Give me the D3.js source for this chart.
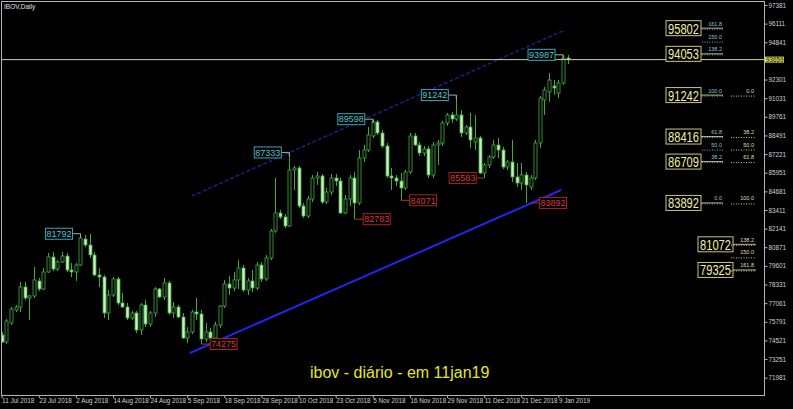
<!DOCTYPE html>
<html><head><meta charset="utf-8">
<script src="https://cdnjs.cloudflare.com/ajax/libs/d3/7.8.5/d3.min.js"></script>
<style>
html,body{margin:0;padding:0;background:#000;}
svg{display:block;}
text{font-family:"Liberation Sans",Arial,sans-serif;}
</style></head><body>
<svg id="c" width="793" height="409"></svg>
<script>
// ---------- DATA ----------
const dates = [
"2018-07-11","2018-07-12","2018-07-13","2018-07-16","2018-07-17","2018-07-18","2018-07-19","2018-07-20","2018-07-23","2018-07-24",
"2018-07-25","2018-07-26","2018-07-27","2018-07-30","2018-07-31","2018-08-01","2018-08-02","2018-08-03","2018-08-06","2018-08-07",
"2018-08-08","2018-08-09","2018-08-10","2018-08-13","2018-08-14","2018-08-15","2018-08-16","2018-08-17","2018-08-20","2018-08-21",
"2018-08-22","2018-08-23","2018-08-24","2018-08-27","2018-08-28","2018-08-29","2018-08-30","2018-08-31","2018-09-03","2018-09-04",
"2018-09-05","2018-09-06","2018-09-10","2018-09-11","2018-09-12","2018-09-13","2018-09-14","2018-09-17","2018-09-18","2018-09-19",
"2018-09-20","2018-09-21","2018-09-24","2018-09-25","2018-09-26","2018-09-27","2018-09-28","2018-10-01","2018-10-02","2018-10-03",
"2018-10-04","2018-10-05","2018-10-08","2018-10-09","2018-10-10","2018-10-11","2018-10-15","2018-10-16","2018-10-17","2018-10-18",
"2018-10-19","2018-10-22","2018-10-23","2018-10-24","2018-10-25","2018-10-26","2018-10-29","2018-10-30","2018-10-31","2018-11-01",
"2018-11-05","2018-11-06","2018-11-07","2018-11-08","2018-11-09","2018-11-12","2018-11-13","2018-11-14","2018-11-16","2018-11-19",
"2018-11-21","2018-11-22","2018-11-23","2018-11-26","2018-11-27","2018-11-28","2018-11-29","2018-11-30","2018-12-03","2018-12-04",
"2018-12-05","2018-12-06","2018-12-07","2018-12-10","2018-12-11","2018-12-12","2018-12-13","2018-12-14","2018-12-17","2018-12-18",
"2018-12-19","2018-12-20","2018-12-21","2018-12-24","2018-12-26","2018-12-27","2018-12-28","2019-01-02","2019-01-03","2019-01-04",
"2019-01-08","2019-01-10","2019-01-11"];
const open = [
74892,74415,75710,76595,76800,78163,77413,77550,78572,78027,
79185,80207,79390,79867,80276,79322,79185,79662,81434,81025,
80344,78981,78845,76391,77618,78708,77072,76800,76050,76391,
75232,76936,75641,76391,78027,77481,78436,76391,76800,76118,
74687,75096,76459,76323,74619,75096,74687,75573,76868,78368,
78095,78640,79458,77958,78572,78095,79662,78708,80139,81980,
83206,82934,82320,86137,86273,83683,83002,84160,85591,85727,
83956,84637,85591,85387,83206,84160,85591,83888,86955,87500,
88454,89408,88658,87772,85727,85591,85387,84910,86000,88454,
87840,87295,87568,85796,87840,87977,89340,89885,89612,89885,
88658,89067,88045,88317,85932,86477,87023,87840,87500,86341,
86682,85660,85250,85796,84978,85591,87977,90907,91452,91861,
91384,92066,93770];
const high = [
75096,75982,76800,76936,78504,78504,77618,79526,78777,79458,
80480,80548,80003,80548,80480,79799,79799,81792,81707,81775,
80548,79458,78981,77958,78845,78845,77754,77072,76527,76527,
77072,77277,76527,78163,78095,78777,78572,77140,76936,76391,
75437,76595,77413,76595,75709,75369,75777,76936,78640,78913,
79185,80003,79662,78777,79322,79867,79867,80344,82116,85591,
83411,83138,87333,86409,86409,83888,84365,85796,86000,85864,
84910,85864,85864,85591,84433,85796,86000,87500,87840,89067,
89598,89544,88862,87977,86273,85796,85932,86137,88658,88658,
88045,87772,87772,88045,88181,89476,90021,90089,91242,90226,
89203,90021,89885,88454,86614,87159,88181,88317,87704,86818,
88181,86614,86614,86000,85796,88181,91180,91793,92747,92270,
92270,93987,93974];
const low = [
74347,74278,75573,76459,76459,77277,75914,77413,77890,77958,
79117,79253,79253,79799,79185,78845,78572,79594,80889,80139,
78913,78163,76050,75914,77481,76936,76731,75914,75914,75028,
74892,75437,75437,76118,77413,77277,76255,76050,76050,74619,
74347,74960,75914,74275,74415,74483,74619,75369,76731,77618,
77890,78027,77822,77618,77822,77958,78504,78572,80003,81843,
82797,82184,82252,84774,83547,82865,82865,83956,85114,83820,
83820,84433,85046,83138,83138,83683,82783,83751,86682,87363,
88317,88522,87636,85591,84774,85046,84071,84774,85864,87772,
87091,87091,85591,85591,86477,87772,89135,89340,89476,88385,
88522,87636,87500,85864,85583,86273,86886,86955,86205,86137,
85319,84978,84774,83892,84774,85455,87636,89885,90770,91248,
91044,91929,93360];
const close = [
74415,75846,76663,76800,78163,77413,77550,78640,78027,79185,
80207,79390,79867,80276,79322,79185,79662,81502,81025,80344,
78981,78845,76391,77618,78708,77072,76800,76050,76391,75232,
76936,75641,76391,78027,77481,78436,76391,76800,76118,74687,
75096,76459,76323,74619,75096,74687,75573,76868,78368,78095,
78640,79458,77958,78572,78095,79662,78708,80139,81980,83206,
82934,82320,86137,86273,83683,83002,84160,85591,85727,83956,
84637,85591,85387,83206,84160,85591,83888,86955,87500,88522,
89408,88658,87772,85727,85591,85387,84910,86000,88454,87840,
87295,87568,85796,87840,87977,89340,89885,89612,89885,88658,
89067,88181,88317,85932,86477,87023,87840,87500,86341,86682,
85660,85250,85796,85114,85591,87977,91044,91589,92270,91725,
92066,93770,93659];

const priceTicks = [97381,96111,94841,92301,91031,89761,88491,87221,85951,84681,83411,82141,80871,79601,78331,77061,75791,74521,73251,71981];
const dateTicks = ["2018-07-11","2018-07-23","2018-08-02","2018-08-14","2018-08-24","2018-09-05","2018-09-18","2018-09-28","2018-10-10","2018-10-23","2018-11-05","2018-11-16","2018-11-29","2018-12-11","2018-12-21","2019-01-08"];
const dateTickLabels = ["11 Jul 2018","23 Jul 2018","2 Aug 2018","14 Aug 2018","24 Aug 2018","5 Sep 2018","18 Sep 2018","28 Sep 2018","10 Oct 2018","23 Oct 2018","5 Nov 2018","16 Nov 2018","29 Nov 2018","11 Dec 2018","21 Dec 2018","9 Jan 2019"];
const lastPrice = 93659;

const swingHighs = [{d:"2018-08-03",v:81792},{d:"2018-10-08",v:87333},{d:"2018-11-05",v:89598},{d:"2018-12-03",v:91242},{d:"2019-01-10",v:93987}];
const swingLows  = [{d:"2018-09-11",v:74275},{d:"2018-10-29",v:82783},{d:"2018-11-13",v:84071},{d:"2018-12-11",v:85583},{d:"2018-12-26",v:83892}];

// Fibonacci levels (0 = 83892, 100 = 91242 on the left set; inverted on the right set)
const fibLeftPct   = ["161.8","150.0","138.2","100.0","61.8","50.0","38.2","0.0"];
const fibLeftVal   = [95802,94917,94053,91242,88416,87567,86709,83892];
const fibLeftBoxed = [true,false,true,true,true,false,true,true];
const fibRightPct  = ["0.0","38.2","50.0","61.8","100.0","138.2","150.0","161.8"];
const fibRightVal  = [91242,88416,87567,86709,83892,81072,80217,79325];
const fibRightBoxed= [false,false,false,false,false,true,false,true];

// channel lines (bar index, price) end points
const channelLow  = {i0:40.6, v0:73665, i1:120.6, v1:84774};
const channelHigh = {i0:41.0, v0:84365, i1:121.4, v1:95678};

const title = "IBOV,Daily";
const caption = "ibov - diário - em 11jan19";

// ---------- DRAW ----------
const W=793,H=409;
const svg=d3.select("#c");
svg.append("rect").attr("width",W).attr("height",H).attr("fill","#000");

const x=d3.scaleLinear().domain([0,122]).range([1.6,1.6+4.64*122]);
const y=d3.scaleLinear().domain([71981,97381]).range([377.7,5]);
const idx = d => dates.indexOf(d);

svg.append("clipPath").attr("id","pc").append("rect").attr("x",2).attr("y",2).attr("width",762).attr("height",393);
const plot = svg.append("g").attr("clip-path","url(#pc)");

// channel lines
plot.append("line")
  .attr("x1",x(channelHigh.i0)).attr("y1",y(channelHigh.v0))
  .attr("x2",x(channelHigh.i1)).attr("y2",y(channelHigh.v1))
  .attr("stroke","#1c1c80").attr("stroke-width",1.6).attr("stroke-dasharray","4,2");
plot.append("line")
  .attr("x1",x(channelLow.i0)).attr("y1",y(channelLow.v0))
  .attr("x2",x(channelLow.i1)).attr("y2",y(channelLow.v1))
  .attr("stroke","#2424f0").attr("stroke-width",2);

// candles
const green="#40ac40", bearFill="#cdeec0";
const bars = d3.range(dates.length).map(i=>({i,o:open[i],h:high[i],l:low[i],c:close[i]}));
const cg = plot.append("g");
cg.selectAll("line.w").data(bars).join("line")
  .attr("x1",d=>Math.round(x(d.i))+0.5).attr("x2",d=>Math.round(x(d.i))+0.5)
  .attr("y1",d=>y(d.h)).attr("y2",d=>y(d.l))
  .attr("stroke",green).attr("stroke-width",1);
cg.selectAll("rect.b").data(bars).join("rect")
  .attr("x",d=>Math.round(x(d.i))-1)
  .attr("width",3)
  .attr("y",d=>y(Math.max(d.o,d.c)))
  .attr("height",d=>Math.max(0.8,Math.abs(y(d.o)-y(d.c))))
  .attr("fill",d=>d.c>=d.o?"#000":bearFill)
  .attr("stroke",green).attr("stroke-width",0.8);

// last price line
plot.append("line").attr("x1",0).attr("x2",764).attr("y1",y(lastPrice)).attr("y2",y(lastPrice))
  .attr("stroke","#cfcf9f").attr("stroke-width",1);

// swing labels
const lg = plot.append("g");
swingHighs.forEach(s=>{
  const cx=x(idx(s.d)), cy=y(s.v);
  const bx=cx-35, bw=27, bh=11;
  lg.append("line").attr("x1",bx+bw).attr("x2",cx).attr("y1",cy).attr("y2",cy).attr("stroke","#a8a8a8");
  lg.append("line").attr("x1",cx).attr("x2",cx).attr("y1",cy).attr("y2",cy+4).attr("stroke","#a8a8a8");
  lg.append("rect").attr("x",bx).attr("y",cy-bh/2).attr("width",bw).attr("height",bh)
    .attr("fill","#000").attr("stroke","#3aa6b8").attr("stroke-width",1);
  lg.append("text").attr("x",bx+bw/2).attr("y",cy+3.2).attr("text-anchor","middle")
    .attr("font-size",9).attr("fill","#52c4d4").text(s.v);
});
const lowSide = [1,1,1,-1,1];
swingLows.forEach((s,k)=>{
  const cx=x(idx(s.d)), cy=y(s.v);
  const bw=27, bh=11;
  const bx = lowSide[k]>0 ? cx+9 : cx-35;
  lg.append("line").attr("x1",lowSide[k]>0?cx:bx+bw).attr("x2",lowSide[k]>0?bx:cx).attr("y1",cy).attr("y2",cy).attr("stroke","#b03030");
  lg.append("rect").attr("x",bx).attr("y",cy-bh/2).attr("width",bw).attr("height",bh)
    .attr("fill","#000").attr("stroke","#a82424").attr("stroke-width",1);
  lg.append("text").attr("x",bx+bw/2).attr("y",cy+3.2).attr("text-anchor","middle")
    .attr("font-size",9).attr("fill","#d83a3a").text(s.v);
});

// fib levels
const fg = plot.append("g");
function fibBox(v,bx){
  const cy=y(v);
  fg.append("rect").attr("x",bx).attr("y",cy-7.5).attr("width",35).attr("height",15)
    .attr("fill","#000").attr("stroke","#c8c880").attr("stroke-width",1);
  fg.append("text").attr("x",bx+2).attr("y",cy+5.5).attr("font-size",14.5)
    .attr("textLength",31).attr("lengthAdjust","spacingAndGlyphs")
    .attr("fill","#f2eea0").text(v);
}
fibLeftVal.forEach((v,k)=>{
  const cy=y(v);
  if(fibLeftBoxed[k]){
    fg.append("line").attr("x1",701).attr("x2",723).attr("y1",cy).attr("y2",cy).attr("stroke","#b8b890");
    fibBox(v,666);
  }
  fg.append("line").attr("x1",702).attr("x2",723).attr("y1",cy+1).attr("y2",cy+1)
    .attr("stroke","#8ea0c0").attr("stroke-dasharray","1,1.5");
  fg.append("text").attr("x",722).attr("y",cy-2.5).attr("text-anchor","end")
    .attr("font-size",5.5).attr("fill","#8fc0d8").text(fibLeftPct[k]);
});
fibRightVal.forEach((v,k)=>{
  const cy=y(v);
  if(fibRightBoxed[k]){
    fg.append("line").attr("x1",733).attr("x2",756).attr("y1",cy).attr("y2",cy).attr("stroke","#b8b890");
    fibBox(v,698);
  }
  fg.append("line").attr("x1",731).attr("x2",756).attr("y1",cy+1).attr("y2",cy+1)
    .attr("stroke","#c8c890").attr("stroke-dasharray","1,1.5");
  fg.append("text").attr("x",754).attr("y",cy-2.5).attr("text-anchor","end")
    .attr("font-size",5.5).attr("fill","#e0dca8").text(fibRightPct[k]);
});

// frame
svg.append("rect").attr("x",1.5).attr("y",1.5).attr("width",763).attr("height",394)
  .attr("fill","none").attr("stroke","#b4b4b4").attr("stroke-width",1);

// right axis
const ya = svg.append("g").attr("transform","translate(764.5,0)")
  .call(d3.axisRight(y).tickValues(priceTicks).tickSize(3).tickPadding(1).tickFormat(d3.format("d")));
ya.select(".domain").remove();
ya.selectAll("line").attr("stroke","#b4b4b4");
ya.selectAll("text").attr("fill","#d0d0d0").attr("font-size",6.3).attr("font-family","Liberation Sans, Arial, sans-serif");

// last price tag
svg.append("rect").attr("x",765).attr("y",y(lastPrice)-3).attr("width",19).attr("height",6).attr("fill","#d8d848");
svg.append("text").attr("x",766).attr("y",y(lastPrice)+2.2).attr("font-size",6.3).attr("fill","#111").text(lastPrice);

// bottom axis
const tickIdx = dateTicks.map(idx);
const xa = svg.append("g").attr("transform","translate(0,395.5)")
  .call(d3.axisBottom(x).tickValues(tickIdx).tickSize(2.5).tickPadding(1)
    .tickFormat((d,k)=>dateTickLabels[k]));
xa.select(".domain").remove();
xa.selectAll("line").attr("stroke","#b4b4b4");
xa.selectAll("text").attr("fill","#d0d0d0").attr("font-size",6.3).attr("text-anchor","start")
  .attr("font-family","Liberation Sans, Arial, sans-serif");

// title
svg.append("text").attr("x",4).attr("y",9).attr("font-size",6.5).attr("fill","#e0e0e0").text(title);
// caption
svg.append("text").attr("x",310).attr("y",378).attr("font-size",16).attr("fill","#e6e628").text(caption);
</script>
</body></html>
